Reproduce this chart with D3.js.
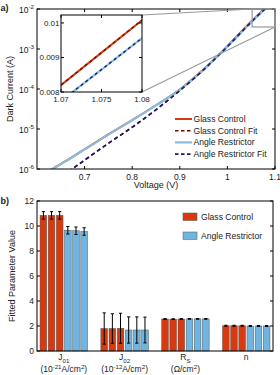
<!DOCTYPE html>
<html><head><meta charset="utf-8">
<script src="https://cdn.jsdelivr.net/npm/d3@7"></script>
<style>
body{margin:0;background:#fff}
svg{display:block}
text{font-family:"Liberation Sans",Arial,sans-serif;fill:#222}
</style>
</head><body>
<svg id="c" width="280" height="375"></svg>
<script>
// ---------- data: panel a ----------
const voltage          = [0.62, 0.64, 0.66, 0.70, 0.75, 0.80, 0.85, 0.90, 0.95, 1.00, 1.05, 1.08, 1.10];
const glassControl     = [8.1e-7, 1.14e-6, 1.57e-6, 3.12e-6, 7.3e-6, 1.67e-5, 3.92e-5, 9.7e-5, 3.1e-4, 1.18e-3, 4.85e-3, 1.06e-2, 1.64e-2];
const glassControlFit  = [3.2e-7, 5.05e-7, 7.6e-7, 1.67e-6, 4.4e-6, 1.11e-5, 3.05e-5, 9.2e-5, 3.05e-4, 1.16e-3, 4.75e-3, 1.04e-2, 1.61e-2];
const angleRestrictor  = [7.94e-7, 1.12e-6, 1.55e-6, 3.09e-6, 7.24e-6, 1.66e-5, 3.89e-5, 9.55e-5, 3.02e-4, 1.15e-3, 4.68e-3, 1.02e-2, 1.58e-2];
const angleRestrictorFit = [3.16e-7, 5.01e-7, 7.59e-7, 1.66e-6, 4.37e-6, 1.10e-5, 3.02e-5, 9.12e-5, 3.02e-4, 1.15e-3, 4.68e-3, 1.02e-2, 1.58e-2];
const voltTicks      = [0.7, 0.8, 0.9, 1.0, 1.1];
const voltTickLabels = ["0.7", "0.8", "0.9", "1", "1.1"];
const currentTicks   = [1e-6, 1e-5, 1e-4, 1e-3, 1e-2];
const currentExps    = ["-6", "-5", "-4", "-3", "-2"];
const insetVoltage   = [1.066, 1.07, 1.075, 1.08, 1.084];
const insetGlass     = [0.00745, 0.00820, 0.00914, 0.01008, 0.01083];
const insetAngle     = [0.00701, 0.00774, 0.00865, 0.00956, 0.01029];
const insetVoltTicks = [1.07, 1.075, 1.08];
const insetVoltLabels = ["1.07", "1.075", "1.08"];
const insetCurTicks  = [0.008, 0.009, 0.01];
const insetCurLabels = ["0.008", "0.009", "0.01"];
const zoomBoxV = [1.052, 1.1];
const zoomBoxI = [3.55e-3, 1e-2];
const legendA = ["Glass Control", "Glass Control Fit", "Angle Restrictor", "Angle Restrictor Fit"];

// ---------- data: panel b ----------
const params     = ["J_{01}", "J_{02}", "R_{S}", "n"];
const paramUnits = ["(10^{-21}A/cm^{2})", "(10^{-12}A/cm^{2})", "(\u03A9/cm^{2})", ""];
const glassVals  = [[10.85, 10.85, 10.85], [1.80, 1.80, 1.82], [2.56, 2.55, 2.56], [2.02, 2.02, 2.02]];
const glassErr   = [[0.30, 0.30, 0.30], [1.25, 1.18, 1.20], [0.03, 0.03, 0.03], [0.04, 0.04, 0.04]];
const angleVals  = [[9.66, 9.62, 9.56], [1.68, 1.68, 1.68], [2.57, 2.57, 2.57], [2.00, 2.00, 2.00]];
const angleErr   = [[0.30, 0.30, 0.30], [1.05, 1.05, 1.03], [0.03, 0.03, 0.03], [0.04, 0.04, 0.04]];
const paramTicks = [0, 2, 4, 6, 8, 10, 12];
const legendB = ["Glass Control", "Angle Restrictor"];

const RED = "#d93a12", LBLUE = "#86bde0", NAVY = "#1c1c6a", DRED = "#6a0c08";
const BARRED = "#d8390f", BARBLUE = "#6fb5e1";

const svg = d3.select("#c");

// rich text helper: _{sub} and ^{sup}
function rich(sel, str, fs) {
  const re = /(_|\^)\{([^}]*)\}/g;
  let last = 0, m, shift = 0;
  const parts = [];
  while ((m = re.exec(str))) {
    if (m.index > last) parts.push({t: str.slice(last, m.index), k: ""});
    parts.push({t: m[2], k: m[1]});
    last = re.lastIndex;
  }
  if (last < str.length) parts.push({t: str.slice(last), k: ""});
  parts.forEach(p => {
    const off = p.k === "_" ? fs * 0.3 : p.k === "^" ? -fs * 0.38 : 0;
    const ts = sel.append("tspan").text(p.t).attr("dy", off - shift);
    if (p.k) ts.attr("font-size", fs * 0.72);
    shift = off;
  });
}

// ================= PANEL A =================
const xA = d3.scaleLinear().domain([0.6, 1.1]).range([37, 275]);
const yA = d3.scaleLog().domain([1e-6, 1e-2]).range([169, 9]);

svg.append("text").attr("x", 0.5).attr("y", 11).attr("font-size", 9).attr("font-weight", "bold").text("a)");

svg.append("clipPath").attr("id", "clipA").append("rect")
  .attr("x", xA.range()[0]).attr("y", yA.range()[1])
  .attr("width", xA.range()[1] - xA.range()[0]).attr("height", yA.range()[0] - yA.range()[1]);

const gA = svg.append("g");
// ticks
const axA = gA.append("g");
voltTicks.forEach((v, i) => {
  axA.append("line").attr("x1", xA(v)).attr("x2", xA(v)).attr("y1", yA.range()[0]).attr("y2", yA.range()[0] - 3).attr("stroke", "#000");
  axA.append("line").attr("x1", xA(v)).attr("x2", xA(v)).attr("y1", yA.range()[1]).attr("y2", yA.range()[1] + 3).attr("stroke", "#000");
  axA.append("text").attr("x", xA(v)).attr("y", yA.range()[0] + 11).attr("text-anchor", "middle").attr("font-size", 8.5).text(voltTickLabels[i]);
});
currentTicks.forEach((c, i) => {
  axA.append("line").attr("x1", xA.range()[0]).attr("x2", xA.range()[0] + 3).attr("y1", yA(c)).attr("y2", yA(c)).attr("stroke", "#000");
  axA.append("line").attr("x1", xA.range()[1]).attr("x2", xA.range()[1] - 3).attr("y1", yA(c)).attr("y2", yA(c)).attr("stroke", "#000");
  const t = axA.append("text").attr("x", 34).attr("y", yA(c) + 4).attr("text-anchor", "end").attr("font-size", 8.5);
  t.append("tspan").text("10");
  t.append("tspan").text(currentExps[i]).attr("font-size", 6.2).attr("dy", -4);
});
svg.append("text").attr("transform", `translate(13,${(yA.range()[0] + yA.range()[1]) / 2}) rotate(-90)`)
  .attr("text-anchor", "middle").attr("font-size", 9).text("Dark Current (A)");
svg.append("text").attr("x", 156).attr("y", 188).attr("text-anchor", "middle").attr("font-size", 9).text("Voltage (V)");

// curves
const lineA = d3.line().x((d, i) => xA(voltage[i])).y(d => yA(d)).curve(d3.curveMonotoneX);
const cg = gA.append("g").attr("clip-path", "url(#clipA)");
cg.append("path").attr("d", lineA(glassControl)).attr("fill", "none").attr("stroke", RED).attr("stroke-width", 2);
cg.append("path").attr("d", lineA(glassControlFit)).attr("fill", "none").attr("stroke", DRED).attr("stroke-width", 1.6).attr("stroke-dasharray", "4,3");
cg.append("path").attr("d", lineA(angleRestrictor)).attr("fill", "none").attr("stroke", LBLUE).attr("stroke-width", 2.2);
cg.append("path").attr("d", lineA(angleRestrictorFit)).attr("fill", "none").attr("stroke", NAVY).attr("stroke-width", 1.6).attr("stroke-dasharray", "4,3");

// frame
gA.append("rect").attr("x", xA.range()[0]).attr("y", yA.range()[1])
  .attr("width", xA.range()[1] - xA.range()[0]).attr("height", yA.range()[0] - yA.range()[1])
  .attr("fill", "none").attr("stroke", "#000").attr("stroke-width", 1);

// inset
const xI = d3.scaleLinear().domain([1.07, 1.08]).range([61, 142]);
const yI = d3.scaleLinear().domain([0.008, 0.01023]).range([92, 15]);

// zoom box & connectors
const zx0 = xA(zoomBoxV[0]), zx1 = xA(zoomBoxV[1]), zy0 = yA(zoomBoxI[1]), zy1 = yA(zoomBoxI[0]);
gA.append("rect").attr("x", zx0).attr("y", zy0).attr("width", zx1 - zx0).attr("height", zy1 - zy0)
  .attr("fill", "none").attr("stroke", "#9a9a9a").attr("stroke-width", 1.2);
gA.append("line").attr("x1", xI.range()[1]).attr("y1", yI.range()[1]).attr("x2", zx0).attr("y2", zy0).attr("stroke", "#9a9a9a").attr("stroke-width", 1.2);
gA.append("line").attr("x1", xI.range()[1]).attr("y1", yI.range()[0]).attr("x2", zx1).attr("y2", zy1).attr("stroke", "#9a9a9a").attr("stroke-width", 1.2);

svg.append("clipPath").attr("id", "clipI").append("rect")
  .attr("x", xI.range()[0]).attr("y", yI.range()[1])
  .attr("width", xI.range()[1] - xI.range()[0]).attr("height", yI.range()[0] - yI.range()[1]);
const gI = svg.append("g");
gI.append("rect").attr("x", xI.range()[0]).attr("y", yI.range()[1])
  .attr("width", xI.range()[1] - xI.range()[0]).attr("height", yI.range()[0] - yI.range()[1]).attr("fill", "#fff");
const lineI = d3.line().x((d, i) => xI(insetVoltage[i])).y(d => yI(d));
const ci = gI.append("g").attr("clip-path", "url(#clipI)");
ci.append("path").attr("d", lineI(insetGlass)).attr("fill", "none").attr("stroke", RED).attr("stroke-width", 2);
ci.append("path").attr("d", lineI(insetGlass)).attr("fill", "none").attr("stroke", DRED).attr("stroke-width", 1.3).attr("stroke-dasharray", "3,3");
ci.append("path").attr("d", lineI(insetAngle)).attr("fill", "none").attr("stroke", LBLUE).attr("stroke-width", 2.2);
ci.append("path").attr("d", lineI(insetAngle)).attr("fill", "none").attr("stroke", NAVY).attr("stroke-width", 1.4).attr("stroke-dasharray", "3,3");
insetVoltTicks.forEach((v, i) => {
  gI.append("line").attr("x1", xI(v)).attr("x2", xI(v)).attr("y1", yI.range()[0]).attr("y2", yI.range()[0] - 3).attr("stroke", "#000");
  gI.append("line").attr("x1", xI(v)).attr("x2", xI(v)).attr("y1", yI.range()[1]).attr("y2", yI.range()[1] + 3).attr("stroke", "#000");
  gI.append("text").attr("x", xI(v)).attr("y", yI.range()[0] + 10).attr("text-anchor", "middle").attr("font-size", 8).text(insetVoltLabels[i]);
});
insetCurTicks.forEach((c, i) => {
  gI.append("line").attr("x1", xI.range()[0]).attr("x2", xI.range()[0] + 3).attr("y1", yI(c)).attr("y2", yI(c)).attr("stroke", "#000");
  gI.append("line").attr("x1", xI.range()[1]).attr("x2", xI.range()[1] - 3).attr("y1", yI(c)).attr("y2", yI(c)).attr("stroke", "#000");
  gI.append("text").attr("x", xI.range()[0] - 1.5).attr("y", yI(c) + 3).attr("text-anchor", "end").attr("font-size", 8).text(insetCurLabels[i]);
});
gI.append("rect").attr("x", xI.range()[0]).attr("y", yI.range()[1])
  .attr("width", xI.range()[1] - xI.range()[0]).attr("height", yI.range()[0] - yI.range()[1])
  .attr("fill", "none").attr("stroke", "#000").attr("stroke-width", 1);

// legend a
const legStyles = [
  {c: RED, w: 2, d: null}, {c: DRED, w: 1.6, d: "3.5,2.5"},
  {c: LBLUE, w: 2.2, d: null}, {c: NAVY, w: 1.6, d: "3.5,2.5"}
];
legendA.forEach((name, i) => {
  const y = 119 + i * 11.7;
  const l = svg.append("line").attr("x1", 175).attr("x2", 192).attr("y1", y).attr("y2", y)
    .attr("stroke", legStyles[i].c).attr("stroke-width", legStyles[i].w);
  if (legStyles[i].d) l.attr("stroke-dasharray", legStyles[i].d);
  svg.append("text").attr("x", 193.5).attr("y", y + 3).attr("font-size", 8.6).text(name);
});

// ================= PANEL B =================
const yB = d3.scaleLinear().domain([0, 12]).range([351, 201]);
const xB = d3.scaleBand().domain(params).range([37, 273]).paddingInner(0.22).paddingOuter(0.05);
const inner = d3.scaleBand().domain(d3.range(6)).range([0, xB.bandwidth()]).paddingInner(0.18);

svg.append("text").attr("x", 0.5).attr("y", 204).attr("font-size", 9).attr("font-weight", "bold").text("b)");

const gB = svg.append("g");
paramTicks.forEach(t => {
  gB.append("line").attr("x1", 37).attr("x2", 40).attr("y1", yB(t)).attr("y2", yB(t)).attr("stroke", "#000");
  gB.append("line").attr("x1", 273).attr("x2", 270).attr("y1", yB(t)).attr("y2", yB(t)).attr("stroke", "#000");
  gB.append("text").attr("x", 34).attr("y", yB(t) + 3).attr("text-anchor", "end").attr("font-size", 8.5).text(t);
});

params.forEach((p, gi) => {
  const vals = glassVals[gi].concat(angleVals[gi]);
  const errs = glassErr[gi].concat(angleErr[gi]);
  vals.forEach((v, j) => {
    const x = xB(p) + inner(j), w = inner.bandwidth();
    gB.append("rect").attr("x", x).attr("y", yB(v)).attr("width", w).attr("height", yB(0) - yB(v))
      .attr("fill", j < 3 ? BARRED : BARBLUE).attr("stroke", "#555").attr("stroke-width", 0.5);
    const cx = x + w / 2, e = errs[j];
    gB.append("line").attr("x1", cx).attr("x2", cx).attr("y1", yB(v + e)).attr("y2", yB(v - e)).attr("stroke", "#000").attr("stroke-width", 1);
    gB.append("line").attr("x1", cx - 1.6).attr("x2", cx + 1.6).attr("y1", yB(v + e)).attr("y2", yB(v + e)).attr("stroke", "#000").attr("stroke-width", 1);
    gB.append("line").attr("x1", cx - 1.6).attr("x2", cx + 1.6).attr("y1", yB(v - e)).attr("y2", yB(v - e)).attr("stroke", "#000").attr("stroke-width", 1);
  });
  const cx = xB(p) + xB.bandwidth() / 2;
  const t1 = svg.append("text").attr("x", cx).attr("y", 360).attr("text-anchor", "middle").attr("font-size", 8.5);
  rich(t1, p, 8.5);
  if (paramUnits[gi]) {
    const t2 = svg.append("text").attr("x", cx).attr("y", 372).attr("text-anchor", "middle").attr("font-size", 8.5);
    rich(t2, paramUnits[gi], 8.5);
  }
});

gB.append("rect").attr("x", 37).attr("y", yB(12)).attr("width", 236).attr("height", yB(0) - yB(12))
  .attr("fill", "none").attr("stroke", "#000").attr("stroke-width", 1);

svg.append("text").attr("transform", `translate(15,${(yB(0) + yB(12)) / 2}) rotate(-90)`)
  .attr("text-anchor", "middle").attr("font-size", 9).text("Fitted Parameter Value");

legendB.forEach((name, i) => {
  const y = 213 + i * 19;
  svg.append("rect").attr("x", 183).attr("y", y).attr("width", 14).attr("height", 7.5)
    .attr("fill", i === 0 ? BARRED : BARBLUE).attr("stroke", "#555").attr("stroke-width", 0.5);
  svg.append("text").attr("x", 201).attr("y", y + 7).attr("font-size", 8.6).text(name);
});
</script>
</body></html>
